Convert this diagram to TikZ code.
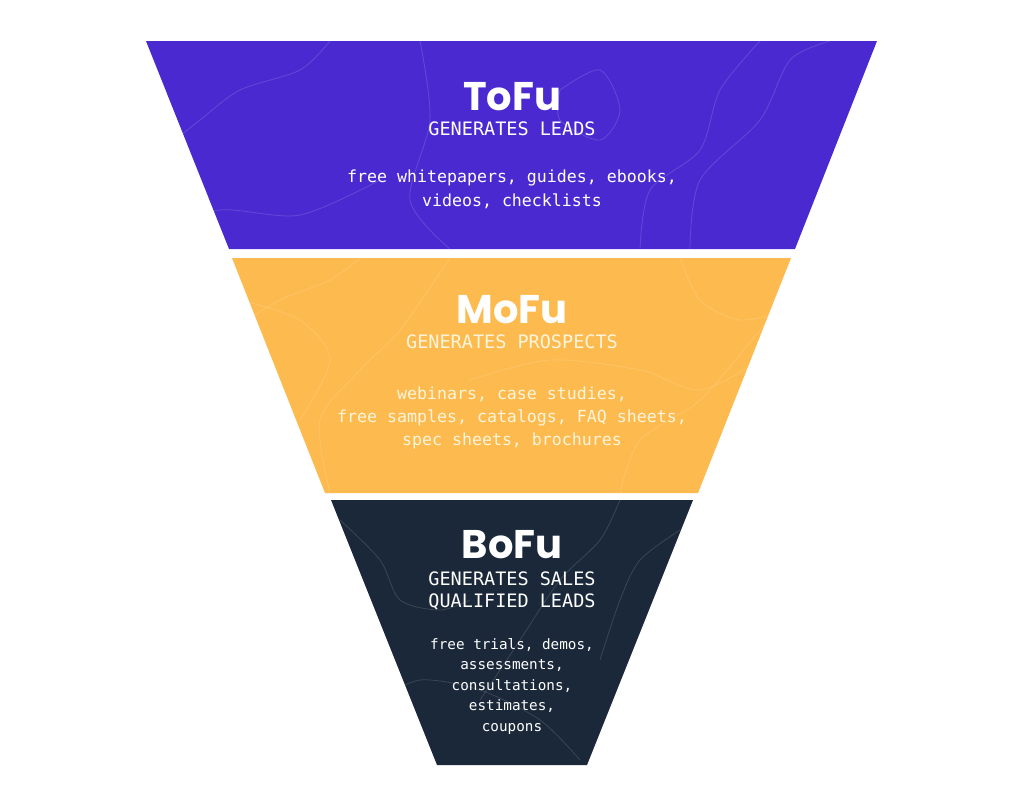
\documentclass[tikz,border=0pt]{standalone}
\usepackage{fontspec}
\setmonofont{DejaVu Sans Mono}
\newfontfamily\titlefont{Poppins}
\usepackage{xcolor}
\definecolor{tofu}{HTML}{4A2AD0}
\definecolor{mofu}{HTML}{FDBB4F}
\definecolor{bofu}{HTML}{1A2839}
\definecolor{cream}{HTML}{FFF4DC}

\begin{document}
\begin{tikzpicture}[x=1pt, y=-1pt,
  every node/.style={inner sep=0pt, align=center, anchor=base},
  stagetitle/.style={font=\titlefont\bfseries\fontsize{40}{40}\selectfont},
  stagegoal/.style={font=\ttfamily\fontsize{18.5}{22}\selectfont},
  stageitems/.style={font=\ttfamily\fontsize{16.6}{24}\selectfont},
  contour/.style={line width=0.8pt, opacity=0.14, white}
]
\useasboundingbox (0,0) rectangle (1024,807);

% funnel bands
\fill[tofu] (146,41) -- (877,41) -- (795,249) -- (229,249) -- cycle;
\fill[mofu] (232,258) -- (791,258) -- (698,493) -- (325,493) -- cycle;
\fill[bofu] (331,500) -- (693,500) -- (587,765) -- (437,765) -- cycle;

% faint contour texture
\begin{scope}
  \clip (146,41) -- (877,41) -- (795,249) -- (229,249) -- cycle;
  \draw[contour] plot[smooth] coordinates {(150,160) (200,120) (240,90) (300,70) (330,41)};
  \draw[contour] plot[smooth] coordinates {(420,41) (430,120) (410,200) (450,249)};
  \draw[contour] plot[smooth] coordinates {(560,90) (600,70) (620,110) (600,140) (560,120) (560,90)};
  \draw[contour] plot[smooth] coordinates {(690,249) (700,180) (760,120) (790,60) (830,41)};
  \draw[contour] plot[smooth] coordinates {(640,249) (650,190) (700,150) (720,90) (760,41)};
  \draw[contour] plot[smooth] coordinates {(150,230) (220,210) (300,215) (380,180)};
\end{scope}
\begin{scope}
  \clip (232,258) -- (791,258) -- (698,493) -- (325,493) -- cycle;
  \draw[contour] plot[smooth] coordinates {(232,330) (280,300) (330,280) (360,258)};
  \draw[contour] plot[smooth] coordinates {(330,493) (320,420) (360,370) (400,330) (450,258)};
  \draw[contour] plot[smooth] coordinates {(470,380) (550,360) (640,370) (700,390) (760,360)};
  \draw[contour] plot[smooth] coordinates {(620,493) (640,440) (700,400) (760,330) (790,290)};
  \draw[contour] plot[smooth] coordinates {(680,258) (700,300) (740,320) (790,310)};
  \draw[contour] plot[smooth] coordinates {(240,300) (300,320) (330,360) (300,420)};
\end{scope}
\begin{scope}
  \clip (331,500) -- (693,500) -- (587,765) -- (437,765) -- cycle;
  \draw[contour] plot[smooth] coordinates {(340,520) (380,560) (400,600) (440,610) (470,600)};
  \draw[contour] plot[smooth] coordinates {(380,700) (420,680) (480,690) (540,720) (580,760)};
  \draw[contour] plot[smooth] coordinates {(620,500) (600,540) (560,580) (520,640) (480,700)};
  \draw[contour] plot[smooth] coordinates {(680,530) (640,560) (620,600) (600,660)};
\end{scope}

% top of funnel
\node[stagetitle, text=white] (tofu-t) at (512,110) {ToFu};
\node[stagegoal, text=white]  (tofu-g) at (512,135) {GENERATES LEADS};
\node[stageitems, text=white] (tofu-i) at (512,206) {free whitepapers, guides, ebooks,\\videos, checklists};

% middle of funnel
\node[stagetitle, text=white] (mofu-t) at (512,323) {MoFu};
\node[stagegoal, text=cream]  (mofu-g) at (512,348) {GENERATES PROSPECTS};
\node[stageitems, text=cream, font=\ttfamily\fontsize{16.6}{23}\selectfont]
  (mofu-i) at (512,445) {webinars, case studies,\\free samples, catalogs, FAQ sheets,\\spec sheets, brochures};

% bottom of funnel
\node[stagetitle, text=white] (bofu-t) at (512,558) {BoFu};
\node[stagegoal, text=white]  (bofu-g) at (512,607) {GENERATES SALES\\QUALIFIED LEADS};
\node[stageitems, text=white, font=\ttfamily\fontsize{14.3}{20.5}\selectfont]
  (bofu-i) at (512,731) {free trials, demos,\\assessments,\\consultations,\\estimates,\\coupons};
\end{tikzpicture}
\end{document}
